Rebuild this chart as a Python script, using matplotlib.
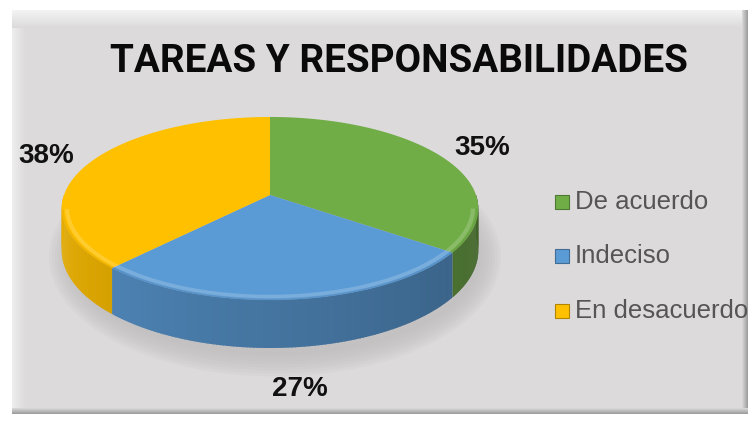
import numpy as np
import matplotlib
matplotlib.use("Agg")
import matplotlib.pyplot as plt
from matplotlib.patches import Polygon, Rectangle, Ellipse
from matplotlib.colors import to_rgb

# ---- data ----
title = "TAREAS Y RESPONSABILIDADES"
categories = ["De acuerdo", "Indeciso", "En desacuerdo"]
values = [35, 27, 38]
colors = ["#70AD47", "#5B9BD5", "#FFC000"]

# ---- layout / style ----
W, H = 755, 424
cx, cy = 270, 195          # apex of pie (pixels)
a, b = 206, 89.5           # horizontal / vertical radii
k = 0.147                  # perspective factor
t = 41                     # thickness

fig = plt.figure(figsize=(W / 100, H / 100), dpi=100)
ax = fig.add_axes([0, 0, 1, 1])
ax.axis("off")
fig.patch.set_facecolor("white")

# ---- panel with bevel ----
px0, py0, px1, py1 = 12, 10, 748, 414
panel = "#dcdadb"
ax.add_patch(Rectangle((px0, py0), px1 - px0, py1 - py0, facecolor=panel, edgecolor="none", zorder=0))

def grad(extent, c0, c1, horizontal, z=0.5):
    n = 64
    c0, c1 = np.array(to_rgb(c0)), np.array(to_rgb(c1))
    f = np.linspace(0, 1, n)[:, None]
    cols = c0 * (1 - f) + c1 * f
    img = cols[None, :, :] if horizontal else cols[:, None, :]
    ax.imshow(img, extent=extent, aspect="auto", zorder=z, interpolation="bilinear")

grad((px0, px1, py0 + 18, py0), "#f4f4f4", panel, horizontal=False)
grad((px0, px0 + 14, py0 + 18, py1), "#eeeeee", panel, horizontal=True)
grad((px1 - 6, px1, py1, py0), panel, "#9a9a9a", horizontal=True, z=0.6)
grad((px0, px1, py1, py1 - 6), panel, "#9a9a9a", horizontal=False, z=0.6)
ax.set_xlim(0, W)
ax.set_ylim(H, 0)

# ---- projection ----
def proj(theta_deg, r=1.0, h=0.0):
    th = np.radians(theta_deg)
    s = np.sin(th) * r
    c = np.cos(th) * r
    w = 1 + k * s
    return cx + a * c / w, cy - b * s / w + h * t / w

def shade(col, f):
    return tuple(np.clip(np.array(to_rgb(col)) * f, 0, 1))

# ---- soft shadow ----
for i, al in enumerate(np.linspace(0.05, 0.02, 8)):
    ax.add_patch(Ellipse((cx + 5, cy + 62), 2 * a + 40 - i * 6, 2 * b + 60 - i * 6,
                         facecolor="#8a8a8a", edgecolor="none", alpha=al, zorder=1))

# ---- wedge angles ----
total = float(sum(values))
starts, ends = [], []
ang = 90.0
for v in values:
    starts.append(ang)
    ang -= 360.0 * v / total
    ends.append(ang)

# ---- sides (front half only) ----
for v, col, s0, e0 in zip(values, colors, starts, ends):
    lo, hi = e0, s0
    for shift in (0, 360, -360):
        l2, h2 = max(lo + shift, -180), min(hi + shift, 0)
        if h2 > l2:
            th = np.linspace(l2, h2, 120)
            for j in range(len(th) - 1):
                tm = 0.5 * (th[j] + th[j + 1])
                f = 0.93 - 0.36 * (tm + 180) / 180
                seg = np.linspace(th[j], min(th[j + 1] + 0.3, h2), 3)
                xt, yt = proj(seg, 1, 0)
                xb, yb = proj(seg[::-1], 1, 1)
                pts = np.column_stack([np.r_[xt, xb], np.r_[yt, yb]])
                ax.add_patch(Polygon(pts, closed=True, facecolor=shade(col, f),
                                     edgecolor="none", zorder=2))

# ---- top surfaces ----
for v, col, s0, e0 in zip(values, colors, starts, ends):
    th = np.linspace(s0, e0, 200)
    x, y = proj(th, 1, 0)
    pts = np.column_stack([np.r_[cx, x], np.r_[cy, y]])
    ax.add_patch(Polygon(pts, closed=True, facecolor=col, edgecolor="none", zorder=3))
    thf = th[np.sin(np.radians(th)) < -0.15]
    if len(thf) > 1:
        xh, yh = proj(thf, 0.975, 0)
        ax.plot(xh, yh, color="white", alpha=0.18, lw=3, zorder=4, solid_capstyle="butt")
        xd, yd = proj(thf, 0.995, 0)
        ax.plot(xd, yd, color=shade(col, 0.9), alpha=0.5, lw=1.5, zorder=4, solid_capstyle="butt")

# ---- percentage labels ----
for v, s0, e0 in zip(values, starts, ends):
    mid = 0.5 * (s0 + e0)
    front = np.sin(np.radians(mid)) < 0
    lx, ly = proj(mid, 1.25, 1.15 if front else 0.0)
    ax.text(lx, ly, f"{round(100 * v / total)}%", ha="center", va="center",
            fontsize=20, fontweight="bold", color="#111111",
            family=["Liberation Sans", "DejaVu Sans"], zorder=5)

# ---- title (fit to width of reference) ----
tt = ax.text(399, 62, title, ha="center", va="center", fontsize=31, fontweight="bold",
             color="#0a0a0a", family=["Roboto", "Liberation Sans", "DejaVu Sans"], zorder=5)
fig.canvas.draw()
wpx = tt.get_window_extent().width
tt.set_fontsize(31 * 578.0 / wpx)

# ---- legend ----
leg_y = [202, 256, 311]
for name, col, yy in zip(categories, colors, leg_y):
    ax.add_patch(Rectangle((555, yy - 7), 14, 14, facecolor=col, edgecolor=shade(col, 0.7),
                           lw=0.8, zorder=5))
    ax.text(575, yy, name, ha="left", va="center", fontsize=18.5, color="#555555",
            family=["Liberation Sans", "DejaVu Sans"], zorder=5)

fig.savefig("out.png", dpi=100, facecolor="white")
